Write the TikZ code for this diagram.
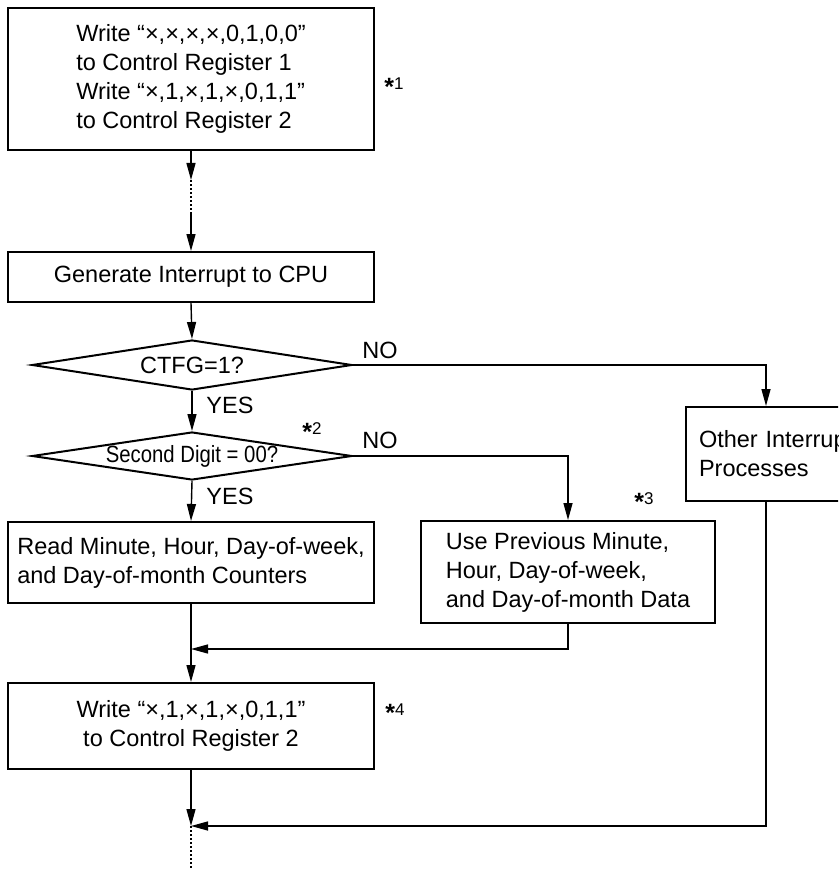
\documentclass[tikz,border=0pt]{standalone}
\usepackage{fontspec}
\setmainfont{Liberation Sans}
\usetikzlibrary{arrows.meta,shapes.geometric}
\newcommand\chartfont{\fontsize{23.5}{29}\selectfont}
\newcommand\notefont{\fontsize{17}{17}\selectfont}
\newcommand\notestar{\raisebox{-6pt}{\fontsize{25}{25}\selectfont\bfseries *}}
\tikzset{
  flow/.style={-{Triangle[length=17pt,width=9pt]}, line width=1.4pt},
  dotted link/.style={line width=1.4pt, dash pattern=on 1.5pt off 2.5pt},
  process box/.style={draw, line width=2pt, minimum width=366pt,
    align=center, inner sep=0pt, font=\chartfont},
  left box/.style={process box, align=left},
  decision/.style={diamond, draw, line width=2pt, minimum width=320pt,
    inner sep=0pt, font=\chartfont},
  branch label/.style={font=\chartfont, inner sep=0pt},
  note label/.style={font=\notefont, inner sep=0pt}
}

\begin{document}
\begin{tikzpicture}[x=1pt,y=-1pt]
  \clip (0,0) rectangle (838,869);
  \fill[white] (0,0) rectangle (838,869);
  % main column
  \node[left box, minimum height=142pt] (b1) at (191,79)
    {Write “×,×,×,×,0,1,0,0”\\to Control Register 1\\
     Write “×,1,×,1,×,0,1,1”\\to Control Register 2};
  \node[process box, minimum height=50pt] (b2) at (191,277)
    {Generate Interrupt to CPU};
  \node[decision, aspect=6.4, minimum height=50pt] (d1) at (192,365)
    {CTFG=1?};
  \node[decision, aspect=6.67, minimum height=48pt] (d2) at (192,456)
    {\scalebox{0.865}[1]{Second Digit = 00?}};
  \node[left box, minimum height=81pt] (b4) at (191,562.5)
    {Read Minute, Hour, Day-of-week,\\and Day-of-month Counters};
  \node[left box, minimum width=294pt, minimum height=102pt] (b3) at (568,572)
    {Use Previous Minute,\\Hour, Day-of-week,\\and Day-of-month Data};
  \node[process box, minimum height=86pt] (b5) at (191,726)
    {Write “×,1,×,1,×,0,1,1”\\to Control Register 2};
  \node[left box, minimum width=160pt, text width=134pt, inner xsep=13pt,
    minimum height=94pt] (other) at (766,454)
    {\mbox{Other Interrupt}\\Processes};

  \coordinate (gap1) at (191,180);
  \coordinate (gap2) at (191,213);
  \coordinate (m1) at (191,649);
  \coordinate (m2) at (191,826);
  \coordinate (tail) at (191,869);

  % labels
  \node[note label] (n1) at (394,87) {\notestar1};
  \node[note label] (n2) at (312,432) {\notestar2};
  \node[note label] (n3) at (644,502) {\notestar3};
  \node[note label] (n4) at (395,713) {\notestar4};
  \node[branch label] (no1) at (380,350) {NO};
  \node[branch label] (no2) at (380,440) {NO};
  \node[branch label] (yes1) at (230,405) {YES};
  \node[branch label] (yes2) at (230,496) {YES};

  % connectors
  \draw[flow] (b1.south) -- (gap1);
  \draw[dotted link] (gap1) -- (gap2);
  \draw[flow] (gap2) -- (b2.north);
  \draw[flow] (b2.south) -- (d1.north);
  \draw[flow] (d1.south) -- (d2.north);
  \draw[flow] (d2.south) -- (b4.north);
  \draw[flow] (d1.east) -| (other.north);
  \draw[flow] (d2.east) -| (b3.north);
  \draw[flow] (b4.south) -- (b5.north);
  \draw[flow] (b3.south) |- (m1);
  \draw[flow] (b5.south) -- (m2);
  \draw[flow] (other.south) |- (m2);
  \draw[dotted link] (m2) -- (tail);
\end{tikzpicture}
\end{document}
